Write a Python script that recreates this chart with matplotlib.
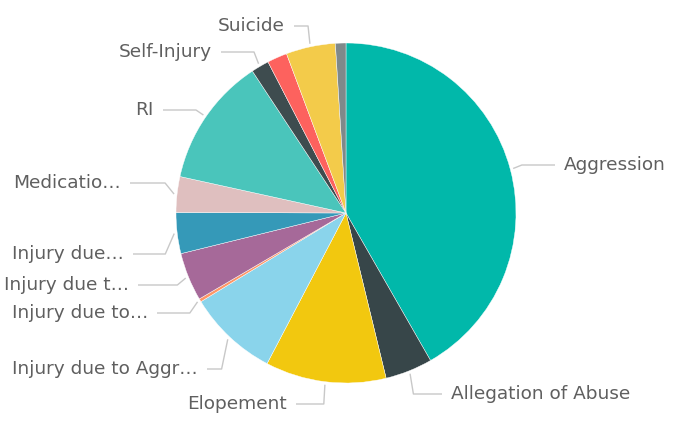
import numpy as np
import matplotlib.pyplot as plt

# incident categories, clockwise from 12 o'clock
categories = ["Aggression", "Allegation of Abuse", "Elopement",
              "Injury due to Aggression", "Injury due to Other",
              "Injury due to Fall", "Injury due to Self",
              "Medication Error", "RI", "Self-Injury",
              "Sexual Incident", "Suicide", "Unauthorized Leave"]
shares = [41.8, 4.5, 11.5, 8.6, 0.3, 4.6, 3.9, 3.4, 12.3, 1.7, 1.9, 4.7, 1.0]
colors = ["#01B8AA", "#374649", "#F2C80F", "#8AD4EB", "#FE9666", "#A66999",
          "#3599B8", "#DFBFBF", "#4AC5BB", "#3E4C4F", "#FD625E", "#F3CB4A",
          "#7F898A"]

# shown labels (truncated like the report visual); None = no label
shown = ["Aggression", "Allegation of Abuse", "Elopement",
         "Injury due to Aggr…", "Injury due to…", "Injury due t…",
         "Injury due…", "Medicatio…", "RI", "Self-Injury",
         None, "Suicide", None]
# label anchor (x, y) in pixels from top-left
label_x = [564, 451, 287, 198, 148, 129, 124, 121, 154, 212, None, 285, None]
label_y = [165, 394, 404, 369, 313, 285, 254, 183, 110, 52, None, 26, None]

W, H = 691, 426
cx, cy, R = 346, 213, 170

fig = plt.figure(figsize=(W / 100, H / 100), dpi=100)
ax = fig.add_axes([0, 0, 1, 1])
ax.set_aspect("equal")
ax.axis("off")

wedges, _ = ax.pie(shares, colors=colors, startangle=90, counterclock=False,
                   center=(cx, H - cy), radius=R,
                   wedgeprops=dict(linewidth=0.3, edgecolor="white"))
ax.set_xlim(0, W)
ax.set_ylim(0, H)

line_col = "#c8c8c8"
text_col = "#5f5f5f"
for w, lab, lx, ly in zip(wedges, shown, label_x, label_y):
    if lab is None:
        continue
    mid = np.deg2rad((w.theta1 + w.theta2) / 2)
    dx, dy = np.cos(mid), np.sin(mid)
    ty = H - ly
    x0, y0 = cx + (R + 3) * dx, (H - cy) + (R + 3) * dy
    xe = cx + (R + 12) * dx
    if dx > 0:
        xs = [x0, xe, lx - 9]
        ha = "left"
    else:
        xs = [x0, xe, lx + 9]
        ha = "right"
    ax.plot(xs, [y0, ty, ty], color=line_col, lw=1, solid_capstyle="butt")
    ax.text(lx, ty, lab, ha=ha, va="center", fontsize=13.3,
            color=text_col, family="DejaVu Sans")

fig.savefig("out.png", dpi=100, facecolor="white")
